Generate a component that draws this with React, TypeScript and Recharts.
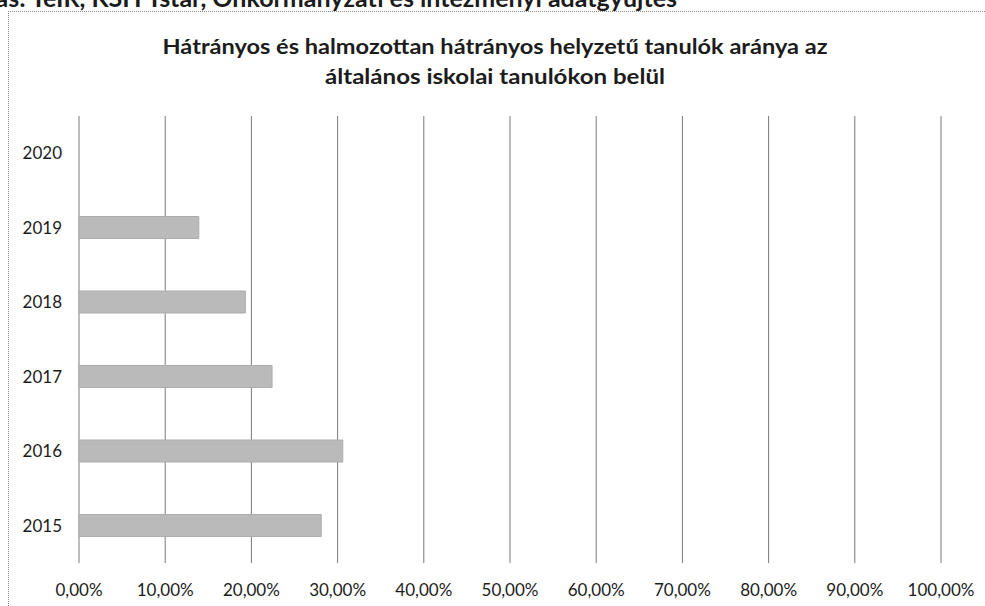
import React from 'react';
import { BarChart, Bar, XAxis, YAxis, CartesianGrid } from 'recharts';

const years = ['2015', '2016', '2017', '2018', '2019', '2020'];
const shares: (number | null)[] = [28.1, 30.6, 22.4, 19.3, 13.9, null];
const xTicks = [0, 10, 20, 30, 40, 50, 60, 70, 80, 90, 100];
const titleLines = [
  'Hátrányos és halmozottan hátrányos helyzetű  tanulók aránya az',
  'általános iskolai tanulókon belül',
];
const titleWidths = [665, 340];
const sourceText = 'Forrás: TeIR, KSH Tstar, Önkormányzati és intézményi adatgyűjtés';

const data = years.map((y, i) => ({ year: y, value: shares[i] }));

const FONT = 'Lato, "Open Sans", sans-serif';
const INK = '#1c1c1c';

export default function App() {
  return (
    <div style={{ position: 'absolute', left: 0, top: 0, width: 985, height: 606, overflow: 'hidden', background: '#fff' }}>
      <div
        style={{
          position: 'absolute',
          right: 308,
          top: -18,
          whiteSpace: 'nowrap',
          fontFamily: FONT,
          fontWeight: 700,
          fontSize: 25,
          color: INK,
        }}
      >
        {sourceText}
      </div>
      <div
        style={{
          position: 'absolute',
          left: 8,
          top: 11,
          width: 1000,
          height: 700,
          borderTop: '1px dotted #8a8a8a',
          borderLeft: '1px dotted #8a8a8a',
        }}
      />
      <svg width={985} height={100} style={{ position: 'absolute', left: 0, top: 0 }}>
        {titleLines.map((t, i) => (
          <text
            key={i}
            x={495}
            y={54 + i * 30}
            textAnchor="middle"
            fontFamily={FONT}
            fontWeight={700}
            fontSize={21}
            textLength={titleWidths[i]}
            lengthAdjust="spacingAndGlyphs"
            fill={INK}
          >
            {t}
          </text>
        ))}
      </svg>
      <div style={{ position: 'absolute', left: 0, top: 0 }}>
        <BarChart
          width={985}
          height={606}
          data={data}
          layout="vertical"
          margin={{ top: 116, right: 44, bottom: 0, left: 0 }}
          barSize={22}
        >
          <CartesianGrid horizontal={false} vertical={true} stroke="#7a7a7a" strokeWidth={1} />
          <XAxis
            type="number"
            domain={[0, 100]}
            ticks={xTicks}
            interval={0}
            axisLine={false}
            tickLine={false}
            tickSize={0}
            tickMargin={21}
            height={43}
            tickFormatter={(v: number) => v.toFixed(2).replace('.', ',') + '%'}
            tick={{ fill: INK, fontFamily: FONT, fontSize: 17 }}
          />
          <YAxis
            type="category"
            dataKey="year"
            reversed
            width={79}
            axisLine={false}
            tickLine={false}
            tickSize={0}
            tickMargin={17}
            tick={{ fill: INK, fontFamily: FONT, fontSize: 17 }}
          />
          <Bar dataKey="value" fill="#bababa" stroke="#acacac" strokeWidth={1} isAnimationActive={false} />
        </BarChart>
      </div>
    </div>
  );
}
